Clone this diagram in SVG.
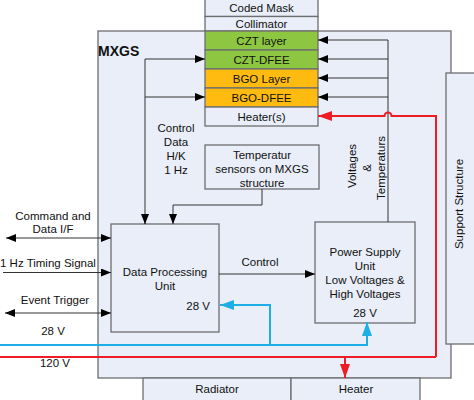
<svg xmlns="http://www.w3.org/2000/svg" width="474" height="400" viewBox="0 0 474 400">
<defs>
<style>
text{font-family:"Liberation Sans",Arial,sans-serif;font-size:11.5px;fill:#111}
.c{text-anchor:middle}
.box{fill:#e9eef8;stroke:#6d6e71;stroke-width:1.3}
.ln{fill:none;stroke:#333;stroke-width:1}
.red{fill:none;stroke:#ee1c25;stroke-width:2}
.blue{fill:none;stroke:#1eaee6;stroke-width:2}
</style>
<marker id="ab" viewBox="0 0 10 8" refX="10" refY="4" markerWidth="10" markerHeight="8" markerUnits="userSpaceOnUse" orient="auto-start-reverse"><path d="M0,0L10,4L0,8z" fill="#000"/></marker>
<marker id="ar" viewBox="0 0 14 10" refX="14" refY="5" markerWidth="14" markerHeight="10" markerUnits="userSpaceOnUse" orient="auto"><path d="M0,0L14,5L0,10z" fill="#ee1c25"/></marker>
<marker id="abl" viewBox="0 0 14 10" refX="14" refY="5" markerWidth="14" markerHeight="10" markerUnits="userSpaceOnUse" orient="auto"><path d="M0,0L14,5L0,10z" fill="#1eaee6"/></marker>
</defs>
<g id="mxgs"><rect class="box" x="98" y="31" width="353" height="347"/><text x="98" y="56" style="font-weight:bold;font-size:14px">MXGS</text></g>
<g id="support"><rect class="box" x="446" y="73" width="40" height="271"/><text class="c" transform="rotate(-90)" x="-204" y="463">Support Structure</text></g>
<g id="radiator"><rect class="box" x="143" y="378" width="148" height="30"/><text class="c" x="217" y="393">Radiator</text></g>
<g id="heater"><rect class="box" x="291" y="378" width="129" height="30"/><text class="c" x="356" y="393">Heater</text></g>
<g id="stack">
<rect class="box" x="205" y="-2" width="113" height="18.5"/><text class="c" x="261.5" y="12">Coded Mask</text>
<rect class="box" x="205" y="16.5" width="113" height="14.5"/><text class="c" x="261.5" y="28">Collimator</text>
<rect class="box" x="205" y="31" width="113" height="19" style="fill:#8dc641"/><text class="c" x="261.5" y="44.5">CZT layer</text>
<rect class="box" x="205" y="50" width="113" height="19" style="fill:#8dc641"/><text class="c" x="261.5" y="63.5">CZT-DFEE</text>
<rect class="box" x="205" y="69" width="113" height="19" style="fill:#ffbb0f"/><text class="c" x="261.5" y="82.5">BGO Layer</text>
<rect class="box" x="205" y="88" width="113" height="19" style="fill:#ffbb0f"/><text class="c" x="261.5" y="101.5">BGO-DFEE</text>
<rect class="box" x="205" y="107" width="113" height="19"/><text class="c" x="261.5" y="120.5">Heater(s)</text>
</g>
<g id="temp"><rect class="box" x="205" y="145" width="114" height="44"/><text class="c" x="262" y="159">Temperatur</text><text class="c" x="262" y="173">sensors on MXGS</text><text class="c" x="262" y="187">structure</text></g>
<g id="dpu"><rect class="box" x="111" y="224" width="108" height="108"/><text class="c" x="165" y="276">Data Processing</text><text class="c" x="165" y="289.5">Unit</text><text x="210" y="310" style="text-anchor:end">28 V</text></g>
<g id="psu"><rect class="box" x="315" y="222" width="100" height="101"/><text class="c" x="365" y="256">Power Supply</text><text class="c" x="365" y="270">Unit</text><text class="c" x="365" y="283.5">Low Voltages &amp;</text><text class="c" x="365" y="297.5">High Voltages</text><text class="c" x="365" y="317">28 V</text></g>
<g id="connectors">
<path class="ln" d="M145,224V59H205" marker-end="url(#ab)"/>
<path class="ln" d="M145,97H205" marker-end="url(#ab)"/>
<path class="ln" d="M145,214V224" marker-end="url(#ab)"/>
<path class="ln" d="M262,189V205H173V224" marker-end="url(#ab)"/>
<path class="ln" d="M388,222V40H318" marker-end="url(#ab)"/>
<path class="ln" d="M388,59H318" marker-end="url(#ab)"/>
<path class="ln" d="M388,78H318" marker-end="url(#ab)"/>
<path class="ln" d="M388,97H318" marker-end="url(#ab)"/>
<path class="ln" d="M219,274H315" marker-end="url(#ab)"/>
<path class="ln" d="M6,238H111" marker-start="url(#ab)" marker-end="url(#ab)"/>
<path class="ln" d="M3,272.5H111" marker-end="url(#ab)"/>
<path class="ln" d="M5,313H111" marker-start="url(#ab)" marker-end="url(#ab)"/>
<path class="red" d="M436,357V116H391.5A3.5,3.5 0 0 0 384.5,116H318" marker-end="url(#ar)"/>
<path class="red" d="M436,357H0"/>
<path class="red" d="M345,357V378" marker-end="url(#ar)"/>
<path class="blue" d="M0,345H367V322" marker-end="url(#abl)"/>
<path class="blue" d="M270,345V305H220" marker-end="url(#abl)"/>
</g>
<g id="labels">
<text class="c" x="176" y="132">Control</text><text class="c" x="176" y="146">Data</text><text class="c" x="176" y="160">H/K</text><text class="c" x="176" y="174">1 Hz</text>
<text class="c" transform="rotate(-90)" x="-166" y="356">Voltages</text>
<text class="c" transform="rotate(-90)" x="-168" y="370.5">&amp;</text>
<text class="c" transform="rotate(-90)" x="-168" y="385">Temperaturs</text>
<text class="c" x="260" y="266">Control</text>
<text class="c" x="53" y="220">Command and</text><text class="c" x="53" y="233">Data I/F</text>
<text x="0" y="267">1 Hz Timing Signal</text>
<text class="c" x="55" y="304">Event Trigger</text>
<text class="c" x="53" y="335">28 V</text>
<text class="c" x="55" y="367">120 V</text>
</g>
</svg>
